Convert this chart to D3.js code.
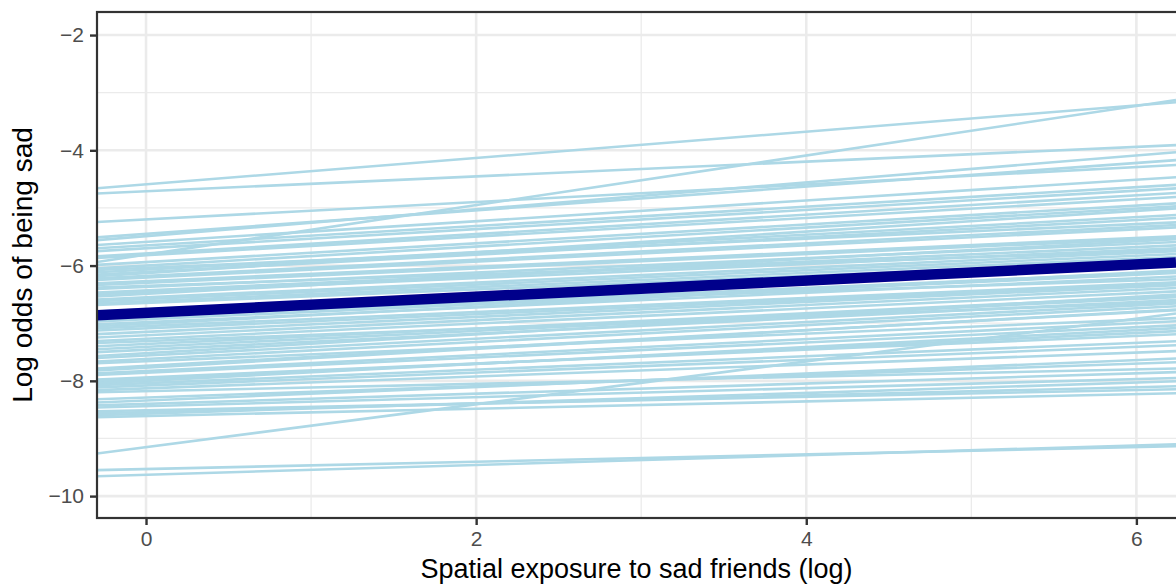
<!DOCTYPE html>
<html>
<head>
<meta charset="utf-8">
<script src="https://cdn.jsdelivr.net/npm/d3@7"></script>
<style>
    body { margin: 0; background: #fff; }
    svg { display: block; font-family: "Liberation Sans", Arial, sans-serif; }
</style>
</head>
<body>
<svg id="chart" width="1176" height="585"></svg>
<script>
/*global d3 */

var groupAt0 = [-4.59, -5.81, -9.15, -9.53, -9.63,
                -4.71, -5.20, -5.45, -5.49, -5.59, -5.65, -5.70, -5.79,
                -5.82, -5.94, -6.00, -6.04, -6.07, -6.11, -6.13, -6.18,
                -6.21, -6.27, -6.30, -6.35, -6.37, -6.43, -6.46, -6.49,
                -6.55, -6.58, -6.62, -6.65, -6.76, -6.82, -6.88, -6.93,
                -6.98, -7.01, -7.05, -7.09, -7.15, -7.21, -7.27, -7.31,
                -7.36, -7.41, -7.46, -7.52, -7.56, -7.62, -7.66, -7.74,
                -7.77, -7.83, -7.86, -7.94, -7.97, -8.00, -8.04, -8.08,
                -8.13, -8.18, -8.29, -8.34, -8.40, -8.44, -8.51, -8.54,
                -8.57, -8.61],
    groupAt6 = [-3.22, -3.23, -6.92, -9.15, -9.12,
                -3.94, -4.29, -4.22, -4.09, -4.51, -4.64, -4.70, -4.78,
                -4.85, -4.96, -5.01, -5.28, -5.16, -5.21, -5.05, -5.33,
                -5.37, -5.52, -5.55, -5.76, -5.62, -5.68, -5.73, -5.58,
                -5.78, -5.83, -5.88, -5.94, -6.02, -6.26, -6.14, -6.16,
                -6.22, -6.12, -6.32, -6.35, -6.37, -6.42, -6.48, -6.66,
                -6.56, -6.58, -6.63, -6.54, -6.69, -6.74, -6.94, -6.81,
                -6.80, -7.00, -7.07, -7.22, -7.17, -7.12, -7.34, -7.41,
                -7.51, -7.80, -7.70, -7.64, -7.87, -7.97, -8.16, -8.11,
                -8.03, -8.23],
    fixedAt0 = -6.82,
    fixedAt6 = -5.98,
    xTicks = [0, 2, 4, 6],
    xMinor = [1, 3, 5],
    yTicks = [-10, -8, -6, -4, -2],
    yMinor = [-9, -7, -5, -3],
    xTitle = "Spatial exposure to sad friends (log)",
    yTitle = "Log odds of being sad";


(function () {
    "use strict";

    var svg = d3.select("#chart"),
        pan = {left: 97, right: 1177, top: 12, bottom: 518},
        x = d3.scaleLinear().domain([-0.297, 6.24])
            .range([pan.left, 1176]),
        y = d3.scaleLinear().domain([-10.38, -1.6])
            .range([pan.bottom, pan.top]),
        col = {grid: "#ebebeb", dark: "#333333", tick: "#4d4d4d",
               group: "#add8e6", fixed: "#00008b"};


    function fitLine (at0, at6) {
        var slope = (at6 - at0) / 6,
            dom = x.domain();
        return dom.map(function (xv) {
            return [x(xv), y(at0 + slope * xv)]; });
    }


    function drawGrid () {
        var g = svg.append("g");
        g.selectAll("line.xmin").data(xMinor).enter().append("line")
            .attr("x1", x).attr("x2", x)
            .attr("y1", pan.top).attr("y2", pan.bottom)
            .attr("stroke", col.grid).attr("stroke-width", 1.3);
        g.selectAll("line.ymin").data(yMinor).enter().append("line")
            .attr("y1", y).attr("y2", y)
            .attr("x1", pan.left).attr("x2", pan.right)
            .attr("stroke", col.grid).attr("stroke-width", 1.3);
        g.selectAll("line.xmaj").data(xTicks).enter().append("line")
            .attr("x1", x).attr("x2", x)
            .attr("y1", pan.top).attr("y2", pan.bottom)
            .attr("stroke", col.grid).attr("stroke-width", 2.6);
        g.selectAll("line.ymaj").data(yTicks).enter().append("line")
            .attr("y1", y).attr("y2", y)
            .attr("x1", pan.left).attr("x2", pan.right)
            .attr("stroke", col.grid).attr("stroke-width", 2.6);
    }


    function drawLines () {
        var line = d3.line(),
            g = svg.append("g").attr("clip-path", "url(#panclip)");
        svg.append("clipPath").attr("id", "panclip")
            .append("rect")
            .attr("x", pan.left).attr("y", pan.top)
            .attr("width", pan.right - pan.left)
            .attr("height", pan.bottom - pan.top);
        g.selectAll("path.grp").data(d3.range(groupAt0.length))
            .enter().append("path")
            .attr("d", function (i) {
                return line(fitLine(groupAt0[i], groupAt6[i])); })
            .attr("fill", "none")
            .attr("stroke", col.group)
            .attr("stroke-width", 2.6);
        g.append("path")
            .attr("d", line(fitLine(fixedAt0, fixedAt6)))
            .attr("fill", "none")
            .attr("stroke", col.fixed)
            .attr("stroke-width", 10.5);
    }


    function drawAxes () {
        var xa = d3.axisBottom(x).tickValues(xTicks).tickSizeOuter(0)
                .tickFormat(d3.format("d"))
                .tickSize(7).tickPadding(6),
            ya = d3.axisLeft(y).tickValues(yTicks).tickSizeOuter(0)
                .tickFormat(d3.format("d"))
                .tickSize(7).tickPadding(6),
            gx, gy;
        gx = svg.append("g")
            .attr("transform", "translate(0," + pan.bottom + ")")
            .call(xa);
        gy = svg.append("g")
            .attr("transform", "translate(" + pan.left + ",0)")
            .call(ya);
        [gx, gy].forEach(function (g) {
            g.select(".domain").remove();
            g.selectAll(".tick line")
                .attr("stroke", col.dark).attr("stroke-width", 2.4);
            g.selectAll(".tick text")
                .attr("fill", col.tick)
                .attr("font-size", 21)
                .attr("font-family", "Liberation Sans, Arial, sans-serif");
        });
        svg.append("rect")  //panel border, right edge runs off the page
            .attr("x", pan.left).attr("y", pan.top)
            .attr("width", pan.right + 4 - pan.left)
            .attr("height", pan.bottom - pan.top)
            .attr("fill", "none")
            .attr("stroke", col.dark)
            .attr("stroke-width", 2.2);
        svg.append("text")
            .attr("x", (pan.left + 1176) / 2)
            .attr("y", 578)
            .attr("text-anchor", "middle")
            .attr("font-size", 27)
            .attr("fill", "#000")
            .text(xTitle);
        svg.append("text")
            .attr("transform", "translate(32," +
                  ((pan.top + pan.bottom) / 2) + ") rotate(-90)")
            .attr("text-anchor", "middle")
            .attr("font-size", 28)
            .attr("fill", "#000")
            .text(yTitle);
    }


    drawGrid();
    drawLines();
    drawAxes();
}());
</script>
</body>
</html>
